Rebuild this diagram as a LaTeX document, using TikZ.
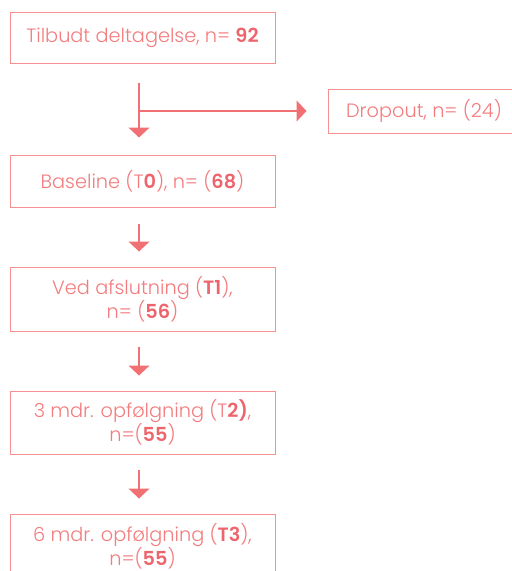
\documentclass[tikz,border=0pt]{standalone}
\usepackage{fontspec}
\setmainfont{Poppins Light}[BoldFont={Poppins SemiBold}]
\usetikzlibrary{arrows.meta}
\definecolor{txt}{RGB}{243,124,126}
\definecolor{bld}{RGB}{238,100,108}
\definecolor{brd}{RGB}{245,145,145}
\definecolor{arw}{RGB}{240,112,116}
\tikzset{
  box/.style={draw=brd, line width=1pt, minimum width=265pt, inner sep=0pt, text=txt, align=center,
    font=\fontsize{19.3}{21}\selectfont},
  arr/.style={draw=arw, line width=1.2pt, -{Triangle[width=21pt,length=10pt]}},
}
\newcommand{\bn}[1]{\textcolor{bld}{\textbf{#1}}}
\begin{document}
\begin{tikzpicture}[x=1pt,y=-1pt]
\useasboundingbox (0,0) rectangle (512,571);
\node[box, minimum height=51pt] (b1) at (142.5,37.5) {Tilbudt deltagelse, n= \bn{92}};
\node[box, minimum height=44pt, minimum width=192pt] (d) at (424,111) {Dropout, n= (24)};
\node[box, minimum height=52pt] (b2) at (142.5,181) {Baseline (T\bn{0}), n= (\bn{68})};
\node[box, minimum height=64pt] (b3) at (142.5,299) {Ved afslutning (\bn{T1}),\\ n= (\bn{56})};
\node[box, minimum height=63pt] (b4) at (142.5,422.5) {3 mdr. opfølgning (T\bn{2)},\\ n=(\bn{55})};
\node[box, minimum height=64pt] (b5) at (142.5,546) {6 mdr. opfølgning (\bn{T3}),\\ n=(\bn{55})};
\coordinate (ax) at (139,0);
\coordinate (br) at (139,111);
\draw[arr, shorten <=19pt, shorten >=17pt] (b1.south -| ax) -- (b2.north -| ax);
\draw[arr, shorten >=21pt] (br) -- (br -| d.west);
\draw[arr, shorten <=16pt, shorten >=15pt] (b2.south -| ax) -- (b3.north -| ax);
\draw[arr, shorten <=15pt, shorten >=15pt] (b3.south -| ax) -- (b4.north -| ax);
\draw[arr, shorten <=15pt, shorten >=15pt] (b4.south -| ax) -- (b5.north -| ax);
\end{tikzpicture}
\end{document}
